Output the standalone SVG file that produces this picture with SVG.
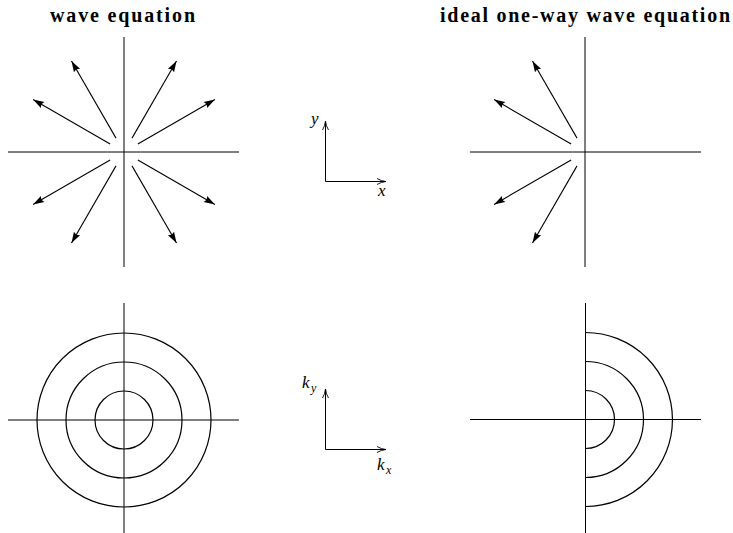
<svg xmlns="http://www.w3.org/2000/svg" width="733" height="533" viewBox="0 0 733 533">
<style>
.ax{stroke:#000;stroke-width:1;fill:none}
.ar{stroke:#000;stroke-width:1.1;fill:none;marker-end:url(#tri)}
.ci{stroke:#000;stroke-width:1.2;fill:none}
.ma{stroke:#000;stroke-width:1;fill:none;marker-end:url(#vee)}
.t{font-family:"Liberation Serif",serif;font-weight:bold;font-size:20px;fill:#000}
.m{font-family:"Liberation Serif",serif;font-style:italic;font-size:17px;fill:#000}
.s{font-family:"Liberation Serif",serif;font-style:italic;font-size:12px;fill:#000}
</style>
<defs>
<marker id="tri" markerUnits="userSpaceOnUse" markerWidth="14" markerHeight="10" refX="11" refY="3.5" orient="auto" overflow="visible">
<path d="M0,0 L11,3.5 L0,7 L1.5,3.5 z" fill="#000"/>
</marker>
<marker id="vee" markerUnits="userSpaceOnUse" markerWidth="12" markerHeight="10" refX="9" refY="3" orient="auto" overflow="visible">
<path d="M0,0 Q4,2.5 9,3 Q4,3.5 0,6" fill="none" stroke="#000" stroke-width="0.9"/>
</marker>
</defs>
<g id="title-left"><text class="t" x="50" y="22" textLength="145" lengthAdjust="spacing">wave equation</text></g>
<g id="title-right"><text class="t" x="440" y="22" textLength="290" lengthAdjust="spacing">ideal one-way wave equation</text></g>
<g id="panel-top-left">
<line class="ax" x1="8" y1="152" x2="239" y2="152"/>
<line class="ax" x1="124" y1="37" x2="124" y2="267"/>
</g>
<g id="panel-top-right">
<line class="ax" x1="470" y1="152" x2="701" y2="152"/>
<line class="ax" x1="585" y1="37" x2="585" y2="267"/>
</g>
<g id="connectors">
<path class="ar" d="M137.86,144 L214.93,99.5"/>
<path class="ar" d="M132,138.14 L176.5,61.07"/>
<path class="ar" d="M116,138.14 L71.5,61.07"/>
<path class="ar" d="M110.14,144 L33.07,99.5"/>
<path class="ar" d="M110.14,160 L33.07,204.5"/>
<path class="ar" d="M116,165.86 L71.5,242.93"/>
<path class="ar" d="M132,165.86 L176.5,242.93"/>
<path class="ar" d="M137.86,160 L214.93,204.5"/>
<path class="ar" d="M577,138.14 L532.5,61.07"/>
<path class="ar" d="M571.14,144 L494.07,99.5"/>
<path class="ar" d="M571.14,160 L494.07,204.5"/>
<path class="ar" d="M577,165.86 L532.5,242.93"/>
</g>
<g id="axes-xy">
<path class="ma" d="M325.5,181.5 L325.5,121"/>
<path class="ma" d="M325.5,181.5 L386,181.5"/>
<text class="m" x="311" y="124">y</text>
<text class="m" x="378" y="196">x</text>
</g>
<g id="panel-bottom-left">
<line class="ax" x1="8" y1="420" x2="239" y2="420"/>
<line class="ax" x1="124" y1="303" x2="124" y2="533"/>
<circle class="ci" cx="124" cy="420" r="29"/>
<circle class="ci" cx="124" cy="420" r="58"/>
<circle class="ci" cx="124" cy="420" r="87"/>
</g>
<g id="axes-k">
<path class="ma" d="M325.5,449.5 L325.5,389"/>
<path class="ma" d="M325.5,449.5 L386,449.5"/>
<text class="m" x="302" y="388">k</text><text class="s" x="311" y="392">y</text>
<text class="m" x="377" y="470">k</text><text class="s" x="386" y="474">x</text>
</g>
<g id="panel-bottom-right">
<line class="ax" x1="470" y1="419.5" x2="701" y2="419.5"/>
<line class="ax" x1="585.5" y1="303" x2="585.5" y2="533"/>
<path class="ci" d="M585.5,390.5 A29,29 0 0 1 585.5,448.5"/>
<path class="ci" d="M585.5,361.5 A58,58 0 0 1 585.5,477.5"/>
<path class="ci" d="M585.5,332.5 A87,87 0 0 1 585.5,506.5"/>
</g>
</svg>
